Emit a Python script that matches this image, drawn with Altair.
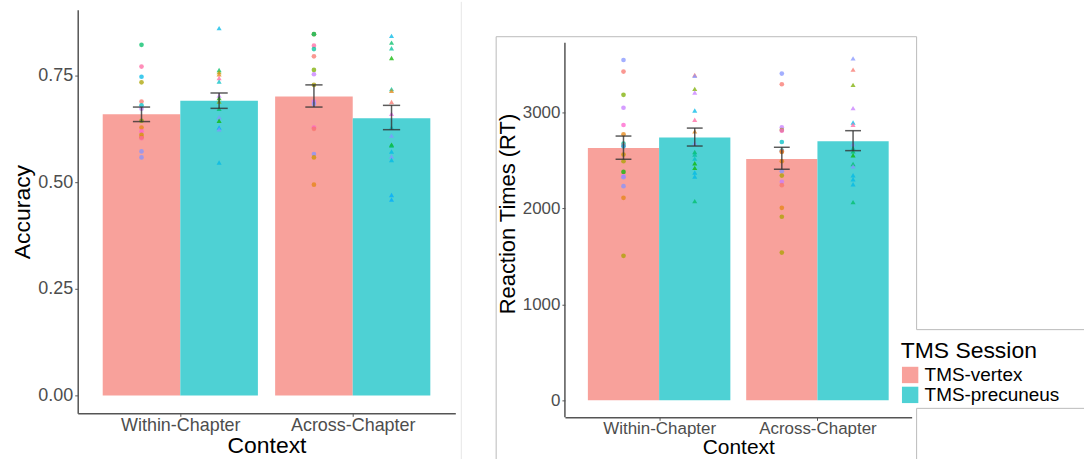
import altair as alt
import pandas as pd

FONT = "Liberation Sans"

contexts = ["Within-Chapter", "Across-Chapter"]
sessions = ["TMS-vertex", "TMS-precuneus"]
session_colors = ["#F8A19B", "#4ED1D4"]
session_shapes = ["circle", "triangle-up"]

subject_palette = ["#F8766D", "#E68613", "#CD9600", "#ABA300", "#7CAE00", "#0CB702",
                   "#00BE67", "#00C19A", "#00BFC4", "#00B8E7", "#00A9FF", "#8494FF",
                   "#C77CFF", "#ED68ED", "#FF61CC", "#FF68A1"]

# group order: (Within, vertex), (Within, precuneus), (Across, vertex), (Across, precuneus)
acc_mean = [0.659, 0.691, 0.701, 0.650]
acc_lo = [0.642, 0.673, 0.676, 0.623]
acc_hi = [0.676, 0.709, 0.728, 0.680]

acc_wv = [0.822, 0.771, 0.747, 0.734, 0.689, 0.680, 0.672, 0.644, 0.628, 0.619, 0.611, 0.605, 0.603, 0.572, 0.558]
acc_wv_col = [6, 15, 9, 3, 0, 8, 12, 4, 1, 14, 2, 1, 15, 11, 11]
acc_wp = [0.861, 0.763, 0.758, 0.753, 0.744, 0.736, 0.703, 0.697, 0.689, 0.672, 0.652, 0.644, 0.628, 0.624, 0.546]
acc_wp_col = [9, 6, 3, 1, 15, 8, 12, 5, 4, 6, 11, 5, 10, 11, 9]
acc_av = [0.847, 0.847, 0.820, 0.812, 0.795, 0.763, 0.753, 0.728, 0.689, 0.683, 0.628, 0.625, 0.566, 0.558, 0.494]
acc_av_col = [2, 6, 15, 7, 0, 4, 12, 3, 12, 11, 14, 0, 11, 2, 1]
acc_ap = [0.843, 0.827, 0.814, 0.791, 0.718, 0.714, 0.688, 0.660, 0.628, 0.609, 0.588, 0.586, 0.572, 0.560, 0.552, 0.470, 0.459]
acc_ap_col = [9, 6, 7, 5, 7, 1, 0, 13, 8, 11, 5, 6, 9, 11, 9, 10, 10]

rt_mean = [2630, 2741, 2516, 2700]
rt_lo = [2513, 2651, 2409, 2603]
rt_hi = [2755, 2838, 2638, 2811]

rt_wv = [3548, 3427, 3185, 3050, 2870, 2773, 2676, 2655, 2648, 2562, 2492, 2381, 2336, 2326, 2233, 2111, 1506]
rt_wv_col = [11, 0, 4, 12, 14, 1, 7, 15, 9, 2, 3, 5, 13, 11, 11, 1, 3]
rt_wp = [3392, 3382, 3247, 3209, 3022, 2925, 2804, 2682, 2589, 2562, 2520, 2471, 2423, 2375, 2333, 2077]
rt_wp_col = [0, 11, 4, 12, 9, 15, 1, 11, 6, 7, 8, 5, 5, 9, 9, 6]
rt_av = [3406, 3295, 2845, 2817, 2811, 2693, 2603, 2596, 2589, 2492, 2388, 2343, 2278, 2243, 2007, 1914, 1540]
rt_av_col = [11, 0, 12, 4, 14, 8, 7, 15, 1, 1, 11, 3, 12, 0, 1, 3, 3]
rt_ap = [3565, 3448, 3289, 3046, 2897, 2873, 2672, 2630, 2596, 2555, 2464, 2440, 2347, 2305, 2253, 2066]
rt_ap_col = [11, 0, 4, 12, 9, 15, 11, 7, 6, 5, 6, 11, 9, 9, 9, 6]


def summary_df(mean, lo, hi):
    rows, k = [], 0
    for ci, c in enumerate(contexts):
        for s in sessions:
            rows.append({"context": c, "ci": ci + 1, "session": s,
                         "mean": mean[k], "lo": lo[k], "hi": hi[k], "z": 0})
            k += 1
    return pd.DataFrame(rows)


def points_df(groups):
    rows, k = [], 0
    for ci, c in enumerate(contexts):
        for s in sessions:
            vals, cols = groups[k]
            for v, col in zip(vals, cols):
                rows.append({"context": c, "ci": ci + 1, "session": s,
                             "val": v, "col": subject_palette[col]})
            k += 1
    return pd.DataFrame(rows)


def calc(ch):
    return ch.transform_calculate(
        sgn="datum.session == 'TMS-vertex' ? -1 : 1"
    ).transform_calculate(
        xc="datum.ci + datum.sgn * 0.225",
        x0="datum.ci + (datum.sgn < 0 ? -0.45 : 0)",
        x1="datum.ci + (datum.sgn < 0 ? 0 : 0.45)",
    ).transform_calculate(
        cap0="datum.xc - 0.05",
        cap1="datum.xc + 0.05",
    )


legend = alt.Legend(orient="none", legendX=826, legendY=331, title="TMS Session",
                    titleFontSize=23, labelFontSize=19, titleFont=FONT, labelFont=FONT,
                    titleFontWeight="normal", titleColor="black", labelColor="black",
                    symbolType="square", symbolSize=270, symbolStrokeWidth=0,
                    symbolOpacity=1, rowPadding=-6, titlePadding=3, labelOffset=5)

XDOM = [0.405, 2.595]


def panel(summ, pts, ydom, yvals, yfmt, ytitle, ytitlesize, tsize, xlsize, xtsize,
          width, height, decor, show_domain=True):
    xaxis = alt.Axis(values=[1, 2],
                     labelExpr="datum.value == 1 ? 'Within-Chapter' : 'Across-Chapter'",
                     title="Context", grid=False, labelFontSize=xlsize, titleFontSize=xtsize,
                     labelFont=FONT, titleFont=FONT, labelColor="#4D4D4D", titleColor="black",
                     titleFontWeight="normal", domainColor="#555555", domainWidth=1.5,
                     tickColor="#555555", tickSize=3, labelPadding=0, titlePadding=0)
    yaxis = alt.Axis(values=yvals, format=yfmt, title=ytitle, grid=False,
                     labelFontSize=tsize, titleFontSize=ytitlesize, labelFont=FONT,
                     titleFont=FONT, labelColor="#4D4D4D", titleColor="black",
                     titleFontWeight="normal", domain=show_domain, domainColor="#555555",
                     domainWidth=1.5, tickColor="#555555", tickSize=3, labelPadding=2,
                     titlePadding=3)
    xs = alt.Scale(domain=XDOM, nice=False, zero=False)
    ys = alt.Scale(domain=ydom, nice=False, zero=False)

    bars = calc(alt.Chart(summ)).mark_bar().encode(
        x=alt.X("x0:Q", scale=xs, axis=xaxis),
        x2="x1:Q",
        y=alt.Y("mean:Q", scale=ys, axis=yaxis),
        y2="z:Q",
        color=alt.Color("session:N", scale=alt.Scale(domain=sessions, range=session_colors),
                        legend=legend),
    )
    point_layers = []
    for s, shp, sz in zip(sessions, session_shapes, [22, 26]):
        point_layers.append(
            calc(alt.Chart(pts)).transform_filter(alt.datum.session == s)
            .mark_point(filled=True, opacity=0.75, size=sz, shape=shp).encode(
                x=alt.X("xc:Q", scale=xs),
                y=alt.Y("val:Q", scale=ys),
                fill=alt.Fill("col:N", scale=None),
            )
        )
    err = calc(alt.Chart(summ)).mark_rule(color="#333333", opacity=0.8, strokeWidth=1.5).encode(
        x=alt.X("xc:Q", scale=xs), y=alt.Y("lo:Q", scale=ys), y2="hi:Q")
    cap_lo = calc(alt.Chart(summ)).mark_rule(color="#333333", opacity=0.8, strokeWidth=1.5).encode(
        x=alt.X("cap0:Q", scale=xs), x2="cap1:Q", y=alt.Y("lo:Q", scale=ys))
    cap_hi = calc(alt.Chart(summ)).mark_rule(color="#333333", opacity=0.8, strokeWidth=1.5).encode(
        x=alt.X("cap0:Q", scale=xs), x2="cap1:Q", y=alt.Y("hi:Q", scale=ys))

    layers = [bars] + point_layers + [err, cap_lo, cap_hi] + decor
    return alt.layer(*layers).properties(width=width, height=height)


def vline(x, y0, y1, color, w=1.0):
    return alt.Chart(pd.DataFrame({"a": [0]})).mark_rule(color=color, strokeWidth=w).encode(
        x=alt.value(x), y=alt.value(y0), y2=alt.value(y1))


def hline(y, x0, x1, color):
    return alt.Chart(pd.DataFrame({"a": [0]})).mark_rule(color=color, strokeWidth=1).encode(
        y=alt.value(y), x=alt.value(x0), x2=alt.value(x1))


left_decor = [
    hline(-8, -77, -76, "#FFFFFF"),
    vline(385, -8, 451, "#E6E6E6"),
]
right_decor = [
    hline(-8, 0, 1, "#FFFFFF"),
    vline(0, 33, 409, "#555555", 1.5),
    hline(27, -69, 353, "#BBBBBB"),
    vline(-69, 27, 451, "#BBBBBB"),
    vline(353, 27, 321, "#BBBBBB"),
    vline(353, 400, 451, "#BBBBBB"),
    hline(321, 353, 521, "#BBBBBB"),
    hline(400, 353, 521, "#BBBBBB"),
]

left = panel(summary_df(acc_mean, acc_lo, acc_hi),
             points_df([(acc_wv, acc_wv_col), (acc_wp, acc_wp_col),
                        (acc_av, acc_av_col), (acc_ap, acc_ap_col)]),
             [-0.042, 0.904], [0, 0.25, 0.5, 0.75], ".2f", "Accuracy", 23, 18, 18, 23,
             379, 405, left_decor)

right = panel(summary_df(rt_mean, rt_lo, rt_hi),
              points_df([(rt_wv, rt_wv_col), (rt_wp, rt_wp_col),
                         (rt_av, rt_av_col), (rt_ap, rt_ap_col)]),
              [-177, 4071], [0, 1000, 2000, 3000], "d", "Reaction Times (RT)", 22, 17, 17, 21,
              348, 409, right_decor, show_domain=False)

chart = alt.hconcat(left, right, spacing=33).properties(
    padding=0, background="white"
).configure_view(stroke=None)

chart.save("out.html", embed_options={"renderer": "svg", "actions": False})
